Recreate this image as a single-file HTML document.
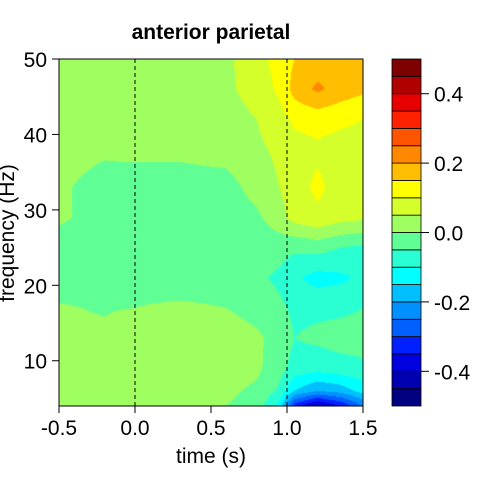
<!DOCTYPE html>
<html><head><meta charset="utf-8"><style>
html,body{margin:0;padding:0;background:#fff;width:480px;height:480px;overflow:hidden}
#wrap{position:relative;width:480px;height:480px}
canvas,svg{position:absolute;left:0;top:0}
text{font-family:"Liberation Sans",Arial,sans-serif;fill:#000}
</style></head><body>
<div id="wrap">
<canvas id="field" width="480" height="480"></canvas>
<svg id="axes" width="480" height="480"></svg>
</div>
<script>
const times=[-0.5,-0.2,0,0.3,0.6,0.8,0.95,1.05,1.2,1.35,1.5];
const freqs=[4,6,9,13,17,21,25,29,33,38,42,46,50];
const zRow4 =[0.005,0.005,0.01,0.01,0.0,-0.02,-0.12,-0.33,-0.42,-0.35,-0.25];
const zRow6 =[0.005,0.005,0.01,0.02,0.01,-0.01,-0.06,-0.15,-0.2,-0.18,-0.13];
const zRow9 =[0.005,0.01,0.02,0.04,0.03,0.01,-0.03,-0.07,-0.08,-0.07,-0.06];
const zRow13=[0.005,0.005,0.02,0.04,0.03,0.01,-0.02,-0.05,-0.04,-0.03,-0.03];
const zRow17=[0.002,-0.002,0.0,0.01,0.0,-0.02,-0.04,-0.06,-0.06,-0.06,-0.05];
const zRow21=[-0.01,-0.01,-0.02,-0.03,-0.03,-0.04,-0.06,-0.09,-0.12,-0.11,-0.09];
const zRow25=[-0.005,-0.01,-0.02,-0.03,-0.03,-0.03,-0.03,-0.04,-0.03,-0.05,-0.06];
const zRow29=[0.002,-0.005,-0.02,-0.03,-0.03,-0.01,0.03,0.07,0.09,0.07,0.06];
const zRow33=[0.002,-0.005,-0.01,-0.02,-0.02,0.02,0.05,0.08,0.11,0.08,0.07];
const zRow38=[0.005,0.002,0.005,0.01,0.02,0.04,0.06,0.08,0.09,0.08,0.08];
const zRow42=[0.01,0.01,0.02,0.02,0.03,0.05,0.08,0.11,0.12,0.11,0.10];
const zRow46=[0.02,0.02,0.03,0.03,0.04,0.07,0.11,0.17,0.21,0.18,0.16];
const zRow50=[0.02,0.02,0.03,0.03,0.04,0.08,0.12,0.15,0.17,0.17,0.16];
const zGrid=[zRow4,zRow6,zRow9,zRow13,zRow17,zRow21,zRow25,zRow29,zRow33,zRow38,zRow42,zRow46,zRow50];
const levelColors=["#000080","#0000B0","#0000E0","#0020FF","#0060FF","#0090FF","#00BFFF","#00FFFF","#2AFFD4","#60FF95","#A0FF60","#D4FF2A","#FFFF00","#FFBF00","#FF8800","#FF5500","#FF2000","#E80000","#B00000","#7F0000"];
const xTicks=[-0.5,0.0,0.5,1.0,1.5];
const xTickLabels=["-0.5","0.0","0.5","1.0","1.5"];
const yTicks=[10,20,30,40,50];
const cbTicks=[-0.4,-0.2,0.0,0.2,0.4];
const cbTickLabels=["-0.4","-0.2","0.0","0.2","0.4"];
const markerTimes=[0,1];

const PX0=59,PX1=363,PY0=59,PY1=406;
const xS=t=>PX0+(t+0.5)/2*(PX1-PX0);
const yS=f=>PY1-(f-4)/46*(PY1-PY0);
const CB0=392,CB1=421;
const cbY=v=>PY1-(v+0.5)*(PY1-PY0);

function seg(arr,v){let i=0;while(i<arr.length-2&&v>arr[i+1])i++;return [i,Math.min(1,Math.max(0,(v-arr[i])/(arr[i+1]-arr[i])))];}
function zAt(t,f){const [i,a]=seg(times,t);const [j,b]=seg(freqs,f);
 const z00=zGrid[j][i],z01=zGrid[j][i+1],z10=zGrid[j+1][i],z11=zGrid[j+1][i+1];
 return (z00*(1-a)+z01*a)*(1-b)+(z10*(1-a)+z11*a)*b;}
function colorOf(v){let k=Math.floor((v+0.5)/0.05);k=Math.max(0,Math.min(19,k));return levelColors[k];}

const ctx=document.getElementById('field').getContext('2d');
for(let px=PX0;px<PX1;px++){for(let py=PY0;py<PY1;py++){
 const t=-0.5+(px+0.5-PX0)/(PX1-PX0)*2;const f=4+(PY1-py-0.5)/(PY1-PY0)*46;
 ctx.fillStyle=colorOf(zAt(t,f));ctx.fillRect(px,py,1,1);}}

const svg=document.getElementById('axes');const NS="http://www.w3.org/2000/svg";
function mk(tag,attrs,name,txt){const e=document.createElementNS(NS,tag);for(const k in attrs)e.setAttribute(k,attrs[k]);
 
 
 if(txt!==undefined)e.textContent=txt;svg.appendChild(e);return e;}
markerTimes.forEach(t=>mk('line',{x1:xS(t),x2:xS(t),y1:PY0,y2:PY1,stroke:'#000','stroke-width':1,'stroke-dasharray':'4,3'},'event-marker-line'));
mk('rect',{x:PX0,y:PY0,width:PX1-PX0,height:PY1-PY0,fill:'none',stroke:'#000','stroke-width':1},'plot-frame');
xTicks.forEach((t,i)=>{mk('line',{x1:xS(t),x2:xS(t),y1:PY1,y2:PY1+7,stroke:'#000'},'x-tick');
 mk('text',{x:xS(t),y:PY1+29,'text-anchor':'middle','font-size':21},'x-tick-label',xTickLabels[i]);});
yTicks.forEach(f=>{mk('line',{x1:PX0-7,x2:PX0,y1:yS(f),y2:yS(f),stroke:'#000'},'y-tick');
 mk('text',{x:PX0-12,y:yS(f)+8,'text-anchor':'end','font-size':21},'y-tick-label',String(f));});
mk('text',{x:211,y:39,'text-anchor':'middle','font-size':21,'font-weight':'bold'},'chart-title','anterior parietal');
mk('text',{x:211,y:463,'text-anchor':'middle','font-size':21},'x-axis-title','time (s)');
mk('text',{x:0,y:0,'text-anchor':'middle','font-size':21,transform:'translate(14,233) rotate(-90)'},'y-axis-title','frequency (Hz)');
levelColors.forEach((c,k)=>{const v0=-0.5+k*0.05;mk('rect',{x:CB0,y:cbY(v0+0.05),width:CB1-CB0,height:cbY(v0)-cbY(v0+0.05),fill:c,stroke:'#000','stroke-width':0.8},'colorbar-level');});
cbTicks.forEach((v,i)=>{mk('line',{x1:CB1,x2:CB1+8,y1:cbY(v),y2:cbY(v),stroke:'#000'},'colorbar-tick');
 mk('text',{x:CB1+13,y:cbY(v)+8,'font-size':21},'colorbar-tick-label',cbTickLabels[i]);});
</script>
</body></html>
